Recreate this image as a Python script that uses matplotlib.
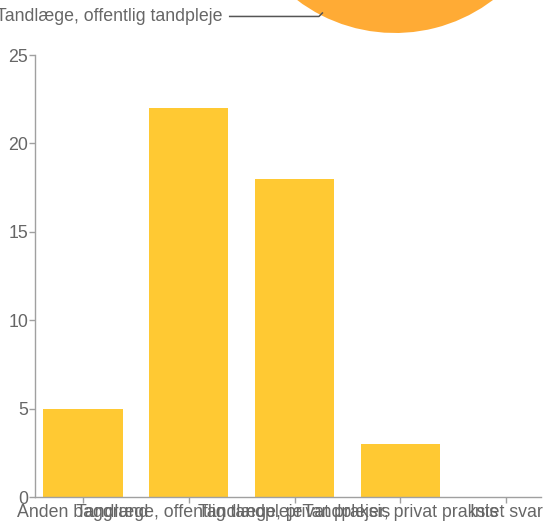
import numpy as np
import matplotlib
matplotlib.use("Agg")
import matplotlib.pyplot as plt

categories = ["Anden baggrund", "Tandlæge, offentlig tandpleje",
              "Tandlæge, privat praksis", "Tandplejer, privat praksis", "Intet svar"]
counts = [5, 22, 18, 3, 0]
yticks = [0, 5, 10, 15, 20, 25]

W, H = 545, 521
plt.rcParams['font.family'] = ['Liberation Sans', 'DejaVu Sans']
fig = plt.figure(figsize=(W / 100, H / 100), dpi=100)

TXT = "#666666"
AX = "#a0a0a0"
FS = 12.8

# ---- cropped pie at top (pixel coordinate overlay) ----
pax = fig.add_axes([0, 0, 1, 1], zorder=0)
center = (395, 650)
R = 162
pie_colors = ["#3366cc", "#ffab35", "#dc3912", "#109618", "#990099"]
start = 3
wedges, _ = pax.pie(counts, colors=pie_colors, startangle=start, counterclock=False,
                    center=center, radius=R, frame=True,
                    wedgeprops=dict(linewidth=0))
pax.set_xlim(0, W)
pax.set_ylim(0, H)
pax.set_aspect('auto')
pax.axis('off')
# leader line for slice 2
w = wedges[1]
mid = np.deg2rad((w.theta1 + w.theta2) / 2)
ax_pt = (center[0] + 0.98 * R * np.cos(mid), center[1] + 0.98 * R * np.sin(mid))
elbow = (ax_pt[0] - 4, ax_pt[1] - 4)
tx = elbow[0] - 90
pax.plot([tx, elbow[0], ax_pt[0]], [elbow[1], elbow[1], ax_pt[1]],
         color="#555555", lw=1.1, solid_capstyle='butt')
pax.text(tx - 6, elbow[1], categories[1], ha='right', va='center',
         fontsize=FS, color=TXT)

# ---- bar chart ----
ax = fig.add_axes([35 / W, 24 / H, (541 - 35) / W, (497 - 55) / H], zorder=1)
ax.patch.set_alpha(0)
x = np.arange(len(categories))
ax.bar(x, counts, width=0.75, color="#ffc933", zorder=2)
ax.set_xlim(-0.454, 4.33)
ax.set_ylim(0, 25)
ax.set_yticks(yticks)
ax.set_yticklabels([str(v) for v in yticks])
ax.set_xticks(x)
ax.set_xticklabels(categories)
for s in ['top', 'right']:
    ax.spines[s].set_visible(False)
for s in ['left', 'bottom']:
    ax.spines[s].set_color(AX)
    ax.spines[s].set_linewidth(1)
ax.tick_params(axis='y', length=4, width=1, color=AX, labelcolor=TXT,
               labelsize=FS, pad=1)
ax.tick_params(axis='x', length=4, width=1, color=AX, labelcolor=TXT,
               labelsize=FS, pad=1)

fig.savefig("out.png", dpi=100)
